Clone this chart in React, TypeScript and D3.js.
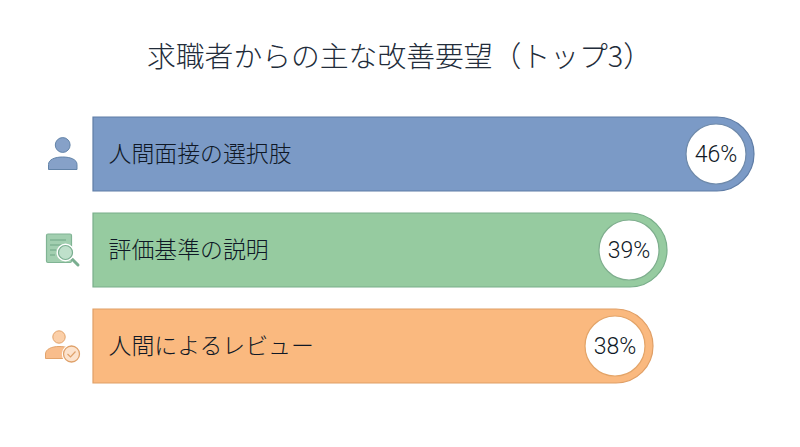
import React from "react";
import * as d3 from "d3";

const titleText = "求職者からの主な改善要望（トップ3）";
const categories = ["人間面接の選択肢", "評価基準の説明", "人間によるレビュー"];
const values = [46, 39, 38];
const fills = ["#7b9ac6", "#96cba0", "#fab97f"];
const strokes = ["#5f7da6", "#79ae8a", "#e09f66"];
const rings = ["#6f8aaa", "#7fae8e", "#e3a468"];
const FONT = '"Noto Sans CJK JP", "Noto Sans", sans-serif';
const NUM_FONT = 'Roboto, "Liberation Sans", sans-serif';
const INK = "#0f1826";

function PersonIcon() {
  return (
    <g fill="#86a1c8" stroke="#6283a8" strokeWidth={1}>
      <circle cx={62.7} cy={145} r={7.4} />
      <path d="M48.5 169.5 V164.5 C48.5 159.5 55 157 62.7 157 C70.5 157 77 159.5 77 164.5 V169.5 Z" />
    </g>
  );
}

function DocIcon() {
  return (
    <g>
      <rect x={46.5} y={234} width={25} height={28.5} rx={1.5} fill="#a2cfb0" stroke="#80b494" strokeWidth={1.2} />
      <g stroke="#6fa585" strokeWidth={1}>
        <line x1={50} y1={240} x2={66} y2={240} />
        <line x1={50} y1={245} x2={62} y2={245} />
        <line x1={50} y1={250} x2={56} y2={250} />
        <line x1={50} y1={255} x2={55} y2={255} />
      </g>
      <line x1={72} y1={259} x2={78} y2={265} stroke="#7aae90" strokeWidth={3} strokeLinecap="round" />
      <circle cx={65.5} cy={252.5} r={7.5} fill="#cde6d6" stroke="#ffffff" strokeWidth={3} />
      <circle cx={65.5} cy={252.5} r={7} fill="#bfe0cb" stroke="#7aae90" strokeWidth={1.2} />
    </g>
  );
}

function ReviewIcon() {
  return (
    <g>
      <circle cx={59} cy={337} r={6.2} fill="#fbcfa8" stroke="#e2a36b" strokeWidth={1} />
      <path d="M45.5 358.5 V354 C45.5 349 52 346.5 59 346.5 C63 346.5 66 347 68 348 L64 358.5 Z" fill="#f8bd8c" stroke="#e2a36b" strokeWidth={1} />
      <circle cx={71.5} cy={354} r={8.2} fill="#fbd9bb" stroke="#ffffff" strokeWidth={3} />
      <circle cx={71.5} cy={354} r={8} fill="#fce3cd" stroke="#dfa16a" strokeWidth={1.3} />
      <path d="M67.5 354 L70.5 357 L75.5 351.5" fill="none" stroke="#dfa16a" strokeWidth={1.2} />
    </g>
  );
}

const icons = [PersonIcon, DocIcon, ReviewIcon];

export default function App() {
  const x = d3.scaleLinear().domain([38, 39, 46]).range([653, 667, 754]);
  const y = d3.scaleBand().domain(categories).range([117, 383]).paddingInner(22 / 96).paddingOuter(0);
  const left = 93;
  const h = y.bandwidth();
  return (
    <svg width={800} height={447} style={{ position: "absolute", left: 0, top: 0, background: "#fff" }}>
      <text x={399.5} y={67} textAnchor="middle" fontFamily={FONT} fontWeight={300} fontSize={28.8} fill="#222c3a">
        {titleText}
      </text>
      {categories.map((c, i) => {
        const top = y(c)!;
        const right = x(values[i]);
        const r = h / 2;
        const cy = top + r;
        const Icon = icons[i];
        const path = d3.path();
        path.moveTo(left, top);
        path.lineTo(right - r, top);
        path.arc(right - r, cy, r, -Math.PI / 2, Math.PI / 2);
        path.lineTo(left, top + h);
        path.closePath();
        return (
          <g key={c}>
            <Icon />
            <path d={path.toString()} fill={fills[i]} stroke={strokes[i]} strokeWidth={1.2} />
            <text x={108.5} y={cy + 8} fontFamily={FONT} fontWeight={300} fontSize={22.9} fill={INK}>{c}</text>
            <circle cx={right - 38} cy={cy} r={30} fill="#fff" stroke={rings[i]} strokeWidth={1.2} />
            <text x={right - 38} y={cy + 8} textAnchor="middle" fontFamily={NUM_FONT} fontWeight={300} fontSize={23} fill={INK}>
              {values[i]}%
            </text>
          </g>
        );
      })}
    </svg>
  );
}
